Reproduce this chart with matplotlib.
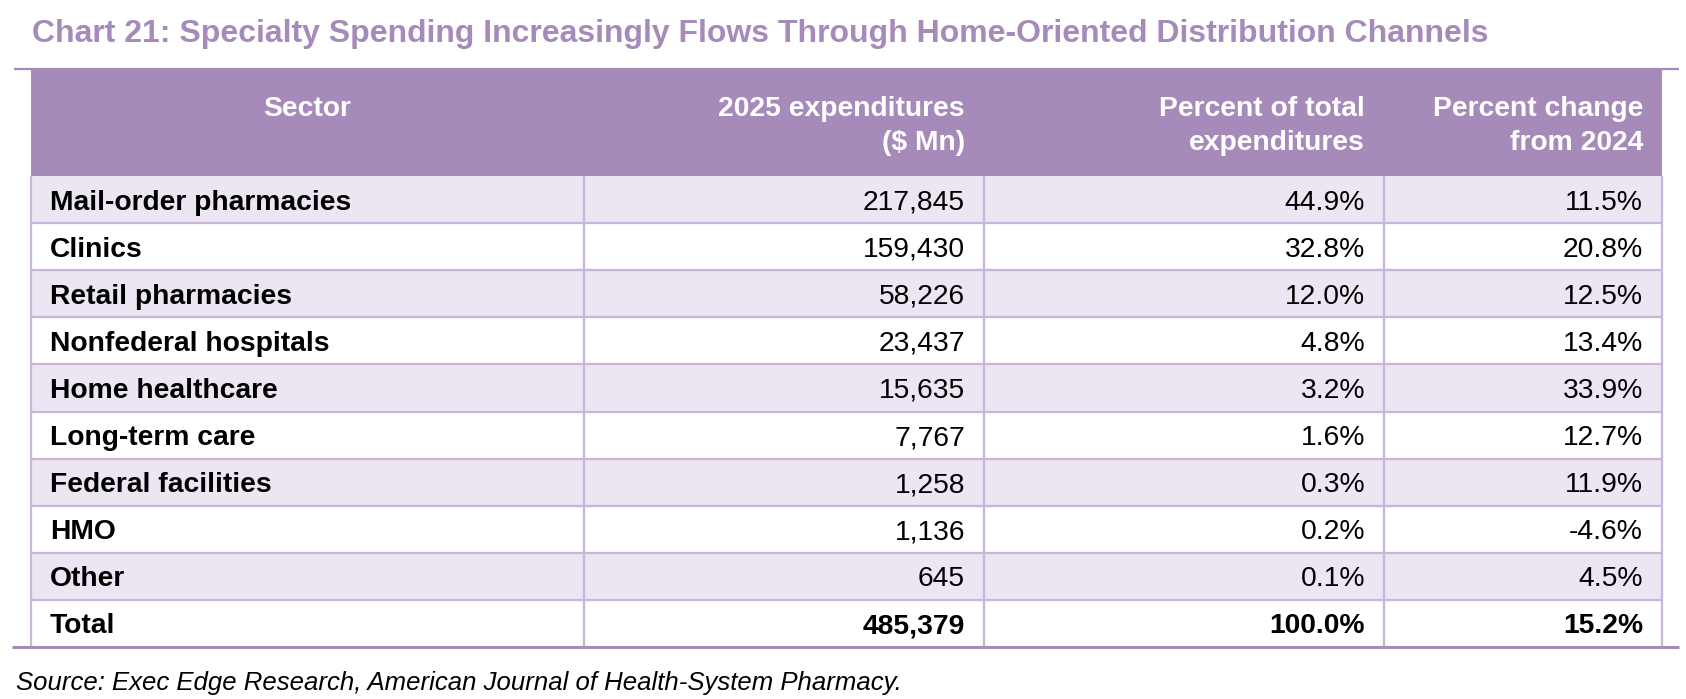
import matplotlib
matplotlib.use("Agg")
import matplotlib.pyplot as plt
from matplotlib.patches import Rectangle

plt.rcParams['font.family'] = ['Liberation Sans', 'DejaVu Sans']

# ---- data ----
title = "Chart 21: Specialty Spending Increasingly Flows Through Home-Oriented Distribution Channels"
source = "Source: Exec Edge Research, American Journal of Health-System Pharmacy."
headers = ["Sector", "2025 expenditures\n($ Mn)", "Percent of total\nexpenditures", "Percent change\nfrom 2024"]
sectors = ["Mail-order pharmacies", "Clinics", "Retail pharmacies", "Nonfederal hospitals",
           "Home healthcare", "Long-term care", "Federal facilities", "HMO", "Other"]
expenditures = [217845, 159430, 58226, 23437, 15635, 7767, 1258, 1136, 645]
pct_of_total = [44.9, 32.8, 12.0, 4.8, 3.2, 1.6, 0.3, 0.2, 0.1]
pct_change = [11.5, 20.8, 12.5, 13.4, 33.9, 12.7, 11.9, -4.6, 4.5]
total_label = "Total"
total_expenditures = 485379
total_pct_of_total = 100.0
total_pct_change = 15.2

# ---- style ----
HEADER = "#A68BBA"
SHADE = "#ECE6F2"
GRID = "#C9B6DA"
W, H = 1686, 699

fig = plt.figure(figsize=(W / 100, H / 100), dpi=100)
ax = fig.add_axes([0, 0, 1, 1])
ax.set_xlim(0, W)
ax.set_ylim(H, 0)
ax.axis("off")

col_edges = [31, 584, 984, 1384, 1662]
table_top = 69
header_bottom = 176
n_rows = len(sectors) + 1
table_bottom = 647
row_h = (table_bottom - header_bottom) / n_rows
pad = 19
fs = 20.3

# title
ax.text(32, 42, title, fontsize=23, fontweight="bold", color=HEADER, ha="left", va="baseline")

# header
ax.add_patch(Rectangle((col_edges[0], table_top), col_edges[-1] - col_edges[0], header_bottom - table_top,
                       facecolor=HEADER, edgecolor="none", zorder=1))
for j, h in enumerate(headers):
    for k, line in enumerate(h.split("\n")):
        y = 116 + k * 34
        if j == 0:
            ax.text((col_edges[0] + col_edges[1]) / 2, y, line, fontsize=fs, fontweight="bold",
                    color="white", ha="center", va="baseline", zorder=3)
        else:
            ax.text(col_edges[j + 1] - pad, y, line, fontsize=fs, fontweight="bold",
                    color="white", ha="right", va="baseline", zorder=3)

# rows
rows = []
for i in range(len(sectors)):
    rows.append((sectors[i], f"{expenditures[i]:,}", f"{pct_of_total[i]:.1f}%", f"{pct_change[i]:.1f}%", "normal"))
rows.append((total_label, f"{total_expenditures:,}", f"{total_pct_of_total:.1f}%", f"{total_pct_change:.1f}%", "bold"))

for i, (lab, e, p, c, wt) in enumerate(rows):
    top = header_bottom + i * row_h
    if i % 2 == 0:
        ax.add_patch(Rectangle((col_edges[0], top), col_edges[-1] - col_edges[0], row_h,
                               facecolor=SHADE, edgecolor="none", zorder=1))
    base = top + row_h / 2 + 10
    ax.text(50, base, lab, fontsize=fs, fontweight="bold", color="black", ha="left", va="baseline", zorder=3)
    for j, v in enumerate([e, p, c]):
        ax.text(col_edges[j + 2] - pad, base, v, fontsize=fs, fontweight=wt, color="black",
                ha="right", va="baseline", zorder=3)

# grid lines
for i in range(1, n_rows):
    y = header_bottom + i * row_h
    ax.plot([col_edges[0], col_edges[-1]], [y, y], color=GRID, lw=1.6, zorder=2, solid_capstyle="butt")
for x in col_edges:
    ax.plot([x, x], [header_bottom, table_bottom], color=GRID, lw=1.6, zorder=2, solid_capstyle="butt")

# top and bottom rules
ax.plot([14, 1679], [table_top, table_top], color=HEADER, lw=1.6, zorder=4, solid_capstyle="butt")
ax.plot([12, 1679], [table_bottom, table_bottom], color=HEADER, lw=2.2, zorder=4, solid_capstyle="butt")

# source
ax.text(16, 690, source, fontsize=18.5, fontstyle="italic", color="black", ha="left", va="baseline")

fig.savefig("out.png", dpi=100)
